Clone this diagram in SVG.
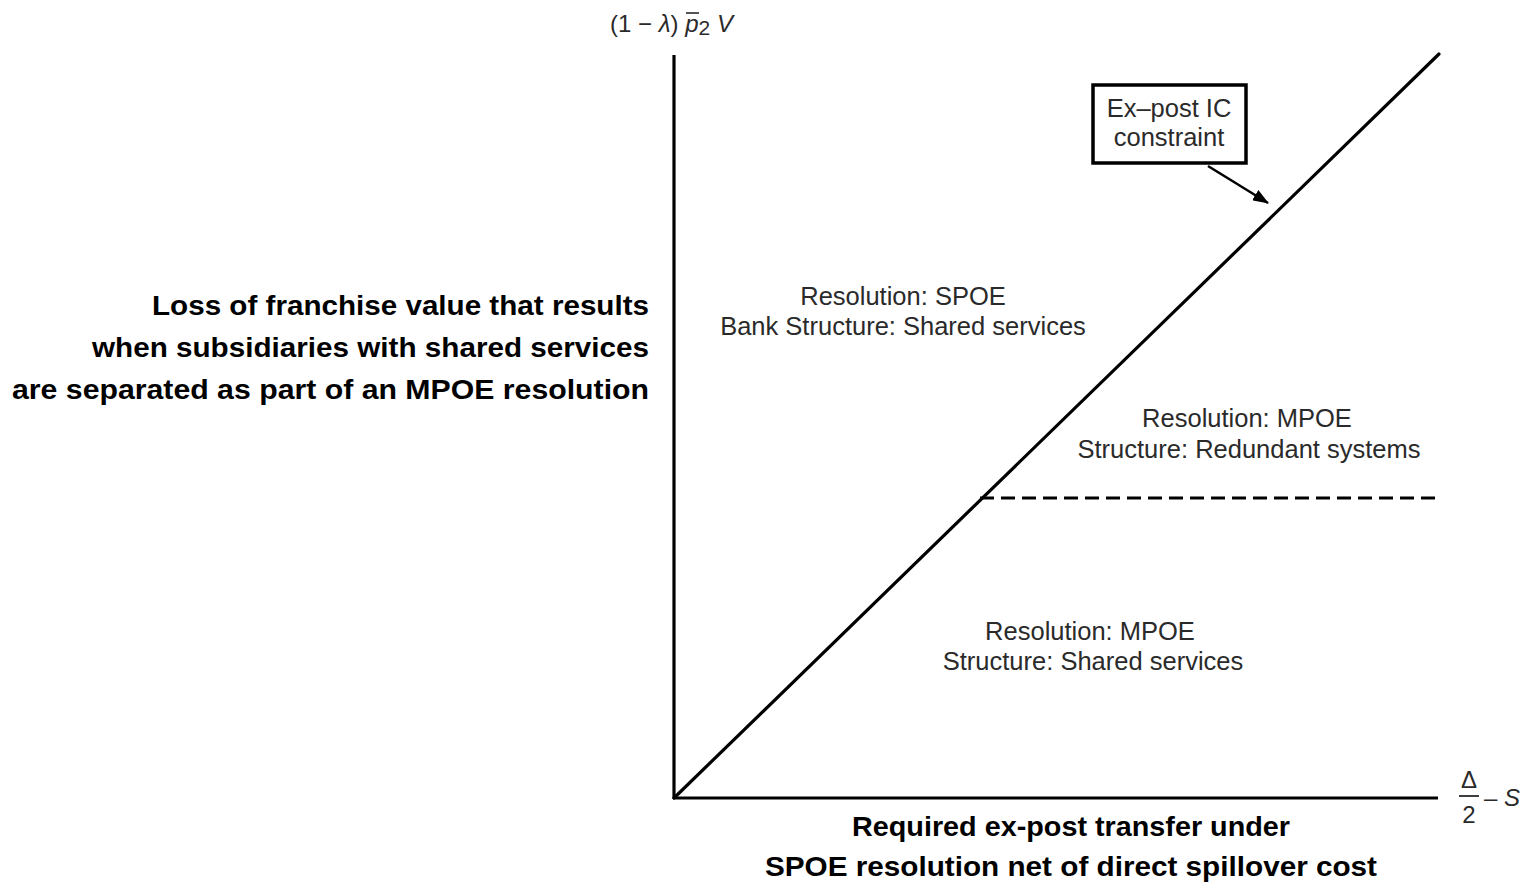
<svg xmlns="http://www.w3.org/2000/svg" width="1530" height="884" viewBox="0 0 1530 884">
<defs>
<style>
.lbl{font-family:"Liberation Sans",Arial,sans-serif;font-size:25.5px;fill:#2a2a2a;text-anchor:middle}
.bold{font-family:"Liberation Sans",Arial,sans-serif;font-size:28px;font-weight:bold;fill:#000}
.ax{stroke:#000;stroke-width:3.2;fill:none}
.math{font-family:"Liberation Sans",Arial,sans-serif;font-size:24px;fill:#2a2a2a}
</style>
<marker id="ah" markerWidth="16" markerHeight="12" refX="15" refY="6" orient="auto" markerUnits="userSpaceOnUse">
<path d="M0,0 L16,6 L0,12 Z" fill="#000"/>
</marker>
</defs>
<rect width="1530" height="884" fill="#fff"/>
<g id="connectors">
<line class="ax" x1="674" y1="55" x2="674" y2="799"/>
<line class="ax" x1="673" y1="798" x2="1438" y2="798"/>
<line class="ax" x1="674" y1="798" x2="1439" y2="54" stroke-linecap="round"/>
<line class="ax" x1="980" y1="498" x2="1440" y2="498" stroke-dasharray="14,7"/>
<line x1="1208" y1="166" x2="1268" y2="203" stroke="#000" stroke-width="2.5" marker-end="url(#ah)"/>
</g>
<g id="y-axis-label">
<text class="math" x="610" y="32">(1 − <tspan font-style="italic">λ</tspan>) <tspan font-style="italic">p</tspan><tspan font-size="21" dy="3">2</tspan><tspan dy="-3"> </tspan><tspan font-style="italic">V</tspan></text>
<line x1="686" y1="13" x2="699" y2="13" stroke="#2a2a2a" stroke-width="1.6"/>
</g>
<g id="x-axis-label">
<text class="math" x="1469" y="788" text-anchor="middle">Δ</text>
<line x1="1459" y1="796" x2="1479" y2="796" stroke="#2a2a2a" stroke-width="1.8"/>
<text class="math" x="1469" y="823" text-anchor="middle">2</text>
<text class="math" x="1484" y="806"><tspan>–</tspan><tspan font-style="italic"> S</tspan></text>
</g>
<g id="ic-box">
<rect x="1093" y="85" width="153" height="78" fill="#fff" stroke="#000" stroke-width="3.5"/>
<text class="lbl" x="1169" y="117">Ex–post IC</text>
<text class="lbl" x="1169" y="146">constraint</text>
</g>
<g id="region-spoe">
<text class="lbl" x="903" y="305">Resolution: SPOE</text>
<text class="lbl" x="903" y="335">Bank Structure: Shared services</text>
</g>
<g id="region-mpoe-redundant">
<text class="lbl" x="1247" y="427">Resolution: MPOE</text>
<text class="lbl" x="1249" y="458">Structure: Redundant systems</text>
</g>
<g id="region-mpoe-shared">
<text class="lbl" x="1090" y="640">Resolution: MPOE</text>
<text class="lbl" x="1093" y="670">Structure: Shared services</text>
</g>
<g id="left-label">
<text class="bold" x="649" y="315" text-anchor="end" textLength="497" lengthAdjust="spacingAndGlyphs">Loss of franchise value that results</text>
<text class="bold" x="649" y="357" text-anchor="end" textLength="557" lengthAdjust="spacingAndGlyphs">when subsidiaries with shared services</text>
<text class="bold" x="649" y="399" text-anchor="end" textLength="637" lengthAdjust="spacingAndGlyphs">are separated as part of an MPOE resolution</text>
</g>
<g id="bottom-label">
<text class="bold" x="1071" y="836" text-anchor="middle" textLength="438" lengthAdjust="spacingAndGlyphs">Required ex-post transfer under</text>
<text class="bold" x="1071" y="876" text-anchor="middle" textLength="612" lengthAdjust="spacingAndGlyphs">SPOE resolution net of direct spillover cost</text>
</g>
</svg>
